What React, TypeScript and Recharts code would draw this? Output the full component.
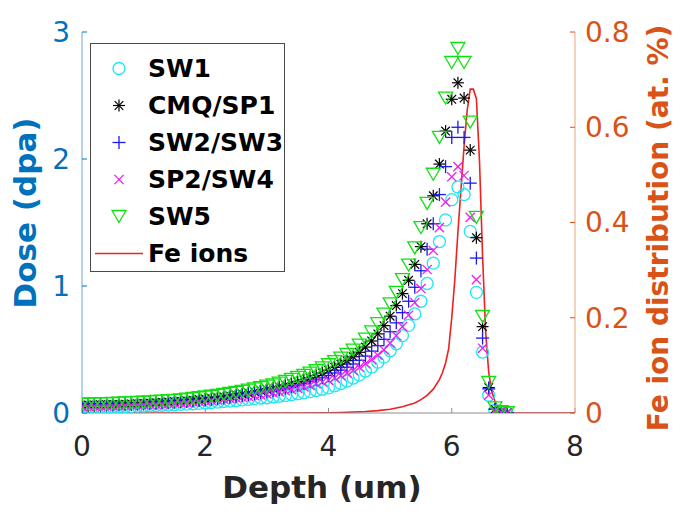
import React from 'react';
import { ComposedChart, Scatter, Line, XAxis, YAxis, Legend } from 'recharts';

const FONT = "'DejaVu Sans', 'Liberation Sans', Arial, sans-serif";

// Depth grid (um) of the dose markers
const depth = [
  0.0, 0.1, 0.2, 0.3, 0.4, 0.5, 0.6, 0.7, 0.8, 0.9,
  1.0, 1.1, 1.2, 1.3, 1.4, 1.5, 1.6, 1.7, 1.8, 1.9,
  2.0, 2.1, 2.2, 2.3, 2.4, 2.5, 2.6, 2.7, 2.8, 2.9,
  3.0, 3.1, 3.2, 3.3, 3.4, 3.5, 3.6, 3.7, 3.8, 3.9,
  4.0, 4.1, 4.2, 4.3, 4.4, 4.5, 4.6, 4.7, 4.8, 4.9,
  5.0, 5.1, 5.2, 5.3, 5.4, 5.5, 5.6, 5.7, 5.8, 5.9,
  6.0, 6.1, 6.2, 6.3, 6.4, 6.5, 6.6, 6.7, 6.8, 6.9,
];

// Dose (dpa)
const sw1 = [
  0.045, 0.046, 0.047, 0.047, 0.048, 0.049, 0.050, 0.051, 0.052, 0.054,
  0.055, 0.057, 0.059, 0.061, 0.063, 0.065, 0.068, 0.070, 0.073, 0.076,
  0.079, 0.082, 0.086, 0.090, 0.094, 0.098, 0.103, 0.108, 0.113, 0.118,
  0.120, 0.126, 0.132, 0.138, 0.145, 0.152, 0.160, 0.168, 0.177, 0.187,
  0.198, 0.214, 0.232, 0.252, 0.275, 0.300, 0.330, 0.362, 0.400, 0.440,
  0.490, 0.545, 0.610, 0.690, 0.780, 0.880, 1.020, 1.180, 1.350, 1.520,
  1.680, 1.780, 1.720, 1.430, 0.950, 0.480, 0.140, 0.020, 0.006, 0.001,
];
const cmqSp1 = [
  0.062, 0.063, 0.064, 0.065, 0.066, 0.067, 0.068, 0.070, 0.072, 0.074,
  0.076, 0.078, 0.081, 0.084, 0.087, 0.090, 0.093, 0.097, 0.101, 0.106,
  0.111, 0.116, 0.122, 0.128, 0.135, 0.142, 0.150, 0.158, 0.167, 0.176,
  0.186, 0.196, 0.207, 0.219, 0.232, 0.246, 0.261, 0.277, 0.295, 0.315,
  0.337, 0.360, 0.385, 0.412, 0.443, 0.478, 0.519, 0.567, 0.623, 0.688,
  0.762, 0.846, 0.940, 1.045, 1.170, 1.310, 1.490, 1.710, 1.960, 2.220,
  2.470, 2.600, 2.480, 2.070, 1.380, 0.680, 0.200, 0.030, 0.008, 0.002,
];
const sw2Sw3 = [
  0.057, 0.058, 0.059, 0.060, 0.061, 0.062, 0.063, 0.065, 0.067, 0.069,
  0.071, 0.073, 0.075, 0.078, 0.081, 0.084, 0.087, 0.091, 0.095, 0.099,
  0.103, 0.108, 0.113, 0.118, 0.124, 0.130, 0.137, 0.144, 0.151, 0.159,
  0.167, 0.176, 0.186, 0.196, 0.207, 0.219, 0.232, 0.246, 0.261, 0.277,
  0.295, 0.315, 0.337, 0.360, 0.386, 0.415, 0.448, 0.487, 0.530, 0.580,
  0.640, 0.710, 0.790, 0.880, 0.990, 1.120, 1.290, 1.490, 1.720, 1.940,
  2.170, 2.250, 2.170, 1.810, 1.220, 0.590, 0.190, 0.030, 0.008, 0.002,
];
const sp2Sw4 = [
  0.052, 0.053, 0.054, 0.055, 0.056, 0.057, 0.058, 0.060, 0.062, 0.064,
  0.066, 0.068, 0.070, 0.072, 0.075, 0.078, 0.081, 0.084, 0.087, 0.091,
  0.095, 0.099, 0.103, 0.108, 0.113, 0.118, 0.124, 0.130, 0.136, 0.143,
  0.150, 0.158, 0.166, 0.175, 0.184, 0.194, 0.205, 0.217, 0.230, 0.244,
  0.259, 0.276, 0.294, 0.314, 0.336, 0.360, 0.388, 0.420, 0.456, 0.497,
  0.550, 0.610, 0.680, 0.770, 0.870, 0.980, 1.130, 1.280, 1.460, 1.660,
  1.860, 1.940, 1.870, 1.540, 1.050, 0.510, 0.140, 0.020, 0.006, 0.001,
];
const sw5 = [
  0.070, 0.071, 0.072, 0.073, 0.074, 0.075, 0.077, 0.079, 0.081, 0.083,
  0.085, 0.088, 0.091, 0.094, 0.097, 0.100, 0.104, 0.109, 0.114, 0.120,
  0.126, 0.132, 0.139, 0.146, 0.154, 0.162, 0.171, 0.180, 0.190, 0.200,
  0.211, 0.222, 0.235, 0.249, 0.264, 0.280, 0.296, 0.314, 0.334, 0.356,
  0.380, 0.405, 0.432, 0.461, 0.495, 0.535, 0.582, 0.638, 0.703, 0.778,
  0.860, 0.950, 1.050, 1.165, 1.300, 1.460, 1.650, 1.880, 2.170, 2.480,
  2.760, 2.870, 2.760, 2.290, 1.540, 0.760, 0.240, 0.040, 0.010, 0.002,
];

// Fe ion distribution (at. %)
const feDepth = [
  0, 0.5, 1, 1.5, 2, 2.5, 3, 3.5, 4, 4.2, 4.4, 4.6, 4.8, 5.0, 5.2, 5.4, 5.5,
  5.6, 5.7, 5.8, 5.85, 5.9, 5.95, 6.0, 6.05, 6.1, 6.15, 6.2, 6.25, 6.3, 6.35,
  6.4, 6.45, 6.5, 6.55, 6.6, 6.65, 6.7, 6.75, 6.8, 6.9, 7.0, 7.5, 8.0,
];
const feDist = [
  0, 0, 0, 0, 0, 0, 0, 0, 0.0005, 0.001, 0.002, 0.003, 0.005, 0.008, 0.013, 0.021, 0.028,
  0.037, 0.05, 0.07, 0.085, 0.105, 0.135, 0.2, 0.28, 0.38, 0.47, 0.56, 0.635, 0.68, 0.68,
  0.66, 0.53, 0.33, 0.17, 0.085, 0.045, 0.025, 0.012, 0.006, 0.001, 0, 0, 0,
];

const xTicks = [0, 2, 4, 6, 8];
const doseTicks = [0, 1, 2, 3];
const feTicks = [0, 0.2, 0.4, 0.6, 0.8];

const seriesNames = ['SW1', 'CMQ/SP1', 'SW2/SW3', 'SP2/SW4', 'SW5', 'Fe ions'];

const C_SW1 = '#1ee6f2';
const C_CMQ = '#000000';
const C_SW2 = '#1a1aee';
const C_SP2 = '#f01ef0';
const C_SW5 = '#10e010';
const C_FE = '#ee2020';
const C_LEFT = '#0072BD';
const C_RIGHT = '#D95319';

const toPoints = (ys: number[]) => depth.map((x, i) => ({ x, y: ys[i] }));
const sw1Data = toPoints(sw1);
const cmqData = toPoints(cmqSp1);
const sw2Data = toPoints(sw2Sw3);
const sp2Data = toPoints(sp2Sw4);
const sw5Data = toPoints(sw5);
const feData = feDepth.map((x, i) => ({ x, y: feDist[i] }));

const CircleMark = ({ cx, cy }: any) => (
  <circle cx={cx} cy={cy} r={6} fill="none" stroke={C_SW1} strokeWidth={1.3} />
);
const StarMark = ({ cx, cy }: any) => {
  const r = 6;
  const d = 4.3;
  return (
    <g stroke={C_CMQ} strokeWidth={1.2}>
      <line x1={cx - r} y1={cy} x2={cx + r} y2={cy} />
      <line x1={cx} y1={cy - r} x2={cx} y2={cy + r} />
      <line x1={cx - d} y1={cy - d} x2={cx + d} y2={cy + d} />
      <line x1={cx - d} y1={cy + d} x2={cx + d} y2={cy - d} />
    </g>
  );
};
const PlusMark = ({ cx, cy }: any) => {
  const r = 6.5;
  return (
    <g stroke={C_SW2} strokeWidth={1.3}>
      <line x1={cx - r} y1={cy} x2={cx + r} y2={cy} />
      <line x1={cx} y1={cy - r} x2={cx} y2={cy + r} />
    </g>
  );
};
const XMark = ({ cx, cy }: any) => {
  const r = 4.6;
  return (
    <g stroke={C_SP2} strokeWidth={1.3}>
      <line x1={cx - r} y1={cy - r} x2={cx + r} y2={cy + r} />
      <line x1={cx - r} y1={cy + r} x2={cx + r} y2={cy - r} />
    </g>
  );
};
const TriMark = ({ cx, cy }: any) => (
  <polygon
    points={`${cx - 7},${cy - 6} ${cx + 7},${cy - 6} ${cx},${cy + 6}`}
    fill="none"
    stroke={C_SW5}
    strokeWidth={1.3}
  />
);

const legendIcons = [
  (cx: number, cy: number) => <CircleMark cx={cx} cy={cy} />,
  (cx: number, cy: number) => <StarMark cx={cx} cy={cy} />,
  (cx: number, cy: number) => <PlusMark cx={cx} cy={cy} />,
  (cx: number, cy: number) => <XMark cx={cx} cy={cy} />,
  (cx: number, cy: number) => <TriMark cx={cx} cy={cy} />,
  (cx: number, cy: number) => (
    <line x1={cx - 24} y1={cy} x2={cx + 24} y2={cy} stroke={C_FE} strokeWidth={1.6} />
  ),
];

const LegendBox = () => (
  <div
    style={{
      width: 195,
      height: 229,
      boxSizing: 'border-box',
      border: '1px solid #4a4a4a',
      background: '#fff',
      padding: '6px 0',
      fontFamily: FONT,
      fontWeight: 'bold',
      fontSize: 25,
      color: '#000',
      overflow: 'hidden',
    }}
  >
    {seriesNames.map((name, i) => (
      <div key={name} style={{ display: 'flex', alignItems: 'center', height: 37 }}>
        <svg width={57} height={37} style={{ flex: 'none' }}>
          {legendIcons[i](28, 18.5)}
        </svg>
        <span style={{ lineHeight: '37px', whiteSpace: 'nowrap' }}>{name}</span>
      </div>
    ))}
  </div>
);

const DoseLabel = () => (
  <text
    x={28}
    y={205}
    transform="rotate(-90, 28, 205)"
    textAnchor="middle"
    fill={C_LEFT}
    fontFamily={FONT}
    fontWeight="bold"
    fontSize={31}
  >
    Dose (dpa)
  </text>
);
const FeLabel = () => (
  <text
    x={660}
    y={220}
    transform="rotate(-90, 660, 220)"
    textAnchor="middle"
    fill={C_RIGHT}
    fontFamily={FONT}
    fontWeight="bold"
    fontSize={28}
  >
    Fe ion distribution (at. %)
  </text>
);
const DepthLabel = () => (
  <text
    x={314}
    y={490}
    textAnchor="middle"
    fill="#262626"
    fontFamily={FONT}
    fontWeight="bold"
    fontSize={31}
  >
    Depth (um)
  </text>
);

export default function App() {
  return (
    <div style={{ width: 672, height: 496 }}>
      <style>{`.recharts-surface{overflow:visible}`}</style>
      <ComposedChart width={672} height={496} margin={{ top: 24, right: 0, bottom: 0, left: 0 }}>
        <XAxis
          xAxisId="top"
          orientation="top"
          type="number"
          dataKey="x"
          domain={[0, 8]}
          allowDataOverflow
          ticks={xTicks}
          interval={0}
          height={0}
          tickSize={-5}
          tickFormatter={() => ''}
          axisLine={{ stroke: '#9a9a9a' }}
          tickLine={{ stroke: '#9a9a9a' }}
        />
        <XAxis
          type="number"
          dataKey="x"
          domain={[0, 8]}
          allowDataOverflow
          ticks={xTicks}
          interval={0}
          height={91}
          tickSize={-5}
          tickMargin={28}
          axisLine={{ stroke: '#8c8c8c' }}
          tickLine={{ stroke: '#8c8c8c' }}
          tick={{ fill: '#262626', fontSize: 28, fontFamily: FONT }}
          label={{ content: () => <DepthLabel /> }}
        />
        <YAxis
          yAxisId="left"
          dataKey="y"
          domain={[0, 3]}
          allowDataOverflow
          ticks={doseTicks}
          interval={0}
          width={74}
          tickSize={-5}
          tickMargin={17}
          axisLine={{ stroke: '#6aa6d6' }}
          tickLine={{ stroke: C_LEFT }}
          tick={{ fill: C_LEFT, fontSize: 28, fontFamily: FONT }}
          label={{ content: () => <DoseLabel /> }}
        />
        <YAxis
          yAxisId="right"
          orientation="right"
          dataKey="y"
          domain={[0, 0.8]}
          allowDataOverflow
          ticks={feTicks}
          interval={0}
          width={105}
          tickSize={-5}
          tickMargin={15}
          axisLine={{ stroke: '#eda283' }}
          tickLine={{ stroke: C_RIGHT }}
          tick={{ fill: C_RIGHT, fontSize: 28, fontFamily: FONT }}
          label={{ content: () => <FeLabel /> }}
        />
        <Scatter name="SW1" yAxisId="left" data={sw1Data} shape={CircleMark} isAnimationActive={false} />
        <Scatter name="CMQ/SP1" yAxisId="left" data={cmqData} shape={StarMark} isAnimationActive={false} />
        <Scatter name="SW2/SW3" yAxisId="left" data={sw2Data} shape={PlusMark} isAnimationActive={false} />
        <Scatter name="SP2/SW4" yAxisId="left" data={sp2Data} shape={XMark} isAnimationActive={false} />
        <Scatter name="SW5" yAxisId="left" data={sw5Data} shape={TriMark} isAnimationActive={false} />
        <Line
          name="Fe ions"
          yAxisId="right"
          data={feData}
          dataKey="y"
          type="linear"
          stroke={C_FE}
          strokeWidth={1.6}
          dot={false}
          activeDot={false}
          isAnimationActive={false}
        />
        <Legend
          layout="horizontal"
          verticalAlign="middle"
          align="center"
          wrapperStyle={{ left: 82, top: 35, width: 195, height: 229 }}
          content={() => <LegendBox />}
        />
      </ComposedChart>
    </div>
  );
}
